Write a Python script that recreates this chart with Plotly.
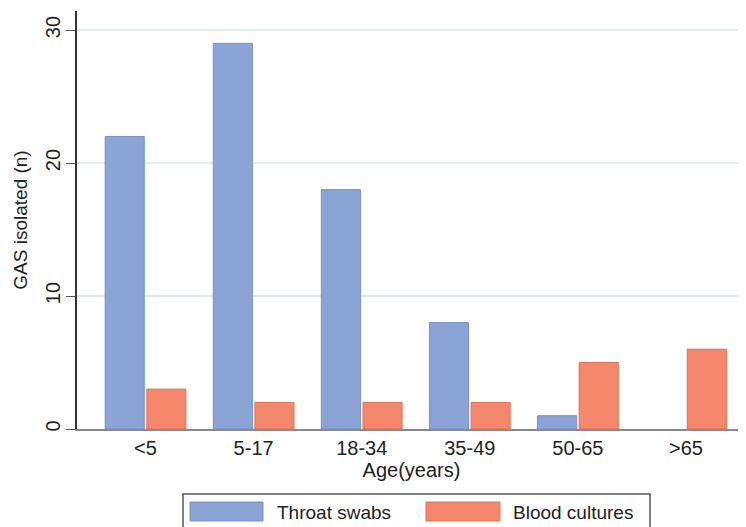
import plotly.graph_objects as go

categories = ["<5", "5-17", "18-34", "35-49", "50-65", ">65"]
throat_swabs = [22, 29, 18, 8, 1, 0]
blood_cultures = [3, 2, 2, 2, 5, 6]
series_names = ["Throat swabs", "Blood cultures"]
y_ticks = [0, 10, 20, 30]

BLUE = "#8aa5d5"
BLUE_EDGE = "#7892c4"
ORANGE = "#f5886c"
ORANGE_EDGE = "#dc7258"
FONT = "Liberation Sans, Arial, sans-serif"

# page body has an 8px margin; compensate so the plot lands where the reference has it
OFF = 8
W, H = 746, 527
ML, MR, MT, MB = 77 - OFF, OFF, 11 - OFF, 98 + OFF
PW, PH = W - ML - MR, H - MT - MB

def px(x):  # window pixel -> paper x
    return (x - OFF - ML) / PW

def py(y):  # window pixel -> paper y
    return (H - MB - (y - OFF)) / PH

def edge_widths(vals):
    return [1 if v > 0 else 0 for v in vals]

fig = go.Figure()
fig.add_trace(go.Bar(x=categories, y=throat_swabs, name=series_names[0],
                     marker=dict(color=BLUE, line=dict(color=BLUE_EDGE, width=edge_widths(throat_swabs))),
                     showlegend=False))
fig.add_trace(go.Bar(x=categories, y=blood_cultures, name=series_names[1],
                     marker=dict(color=ORANGE, line=dict(color=ORANGE_EDGE, width=edge_widths(blood_cultures))),
                     showlegend=False))

shapes = [
    dict(type="rect", xref="paper", yref="paper", x0=px(183), x1=px(650), y0=py(540), y1=py(494),
         line=dict(color="#555555", width=1.5), fillcolor="white", layer="above"),
    dict(type="rect", xref="paper", yref="paper", x0=px(190), x1=px(263), y0=py(521), y1=py(502),
         line=dict(color=BLUE_EDGE, width=1), fillcolor=BLUE, layer="above"),
    dict(type="rect", xref="paper", yref="paper", x0=px(426), x1=px(500), y0=py(521), y1=py(502),
         line=dict(color=ORANGE_EDGE, width=1), fillcolor=ORANGE, layer="above"),
]
annotations = [
    dict(text=series_names[0], xref="paper", yref="paper", x=px(275), y=py(512),
         xanchor="left", yanchor="middle", showarrow=False, font=dict(size=19, color="#222222", family=FONT)),
    dict(text=series_names[1], xref="paper", yref="paper", x=px(511), y=py(512),
         xanchor="left", yanchor="middle", showarrow=False, font=dict(size=19, color="#222222", family=FONT)),
]

fig.update_layout(
    width=W, height=H,
    margin=dict(l=ML, r=MR, t=MT, b=MB),
    paper_bgcolor="white", plot_bgcolor="white",
    barmode="group", bargap=0.23, bargroupgap=0.06,
    font=dict(family=FONT, size=20, color="#222222"),
    shapes=shapes, annotations=annotations,
    xaxis=dict(range=[-0.634, 5.555], showline=True, linecolor="#8a8a8a", linewidth=1.5,
               ticks="", showgrid=False, zeroline=False,
               title=dict(text="Age(years)", font=dict(size=20), standoff=5),
               tickfont=dict(size=20)),
    yaxis=dict(range=[0, 31.43], tickvals=y_ticks, showline=True, linecolor="#333333", linewidth=1.5,
               ticks="outside", ticklen=9, tickcolor="#555555", tickwidth=1,
               tickangle=-90, tickfont=dict(size=20), ticklabelstandoff=-2,
               showgrid=True, gridcolor="#e4ecee", gridwidth=1.5, zeroline=False,
               title=dict(text="GAS isolated (n)", font=dict(size=19), standoff=10)),
)

fig.write_html("out.html")
